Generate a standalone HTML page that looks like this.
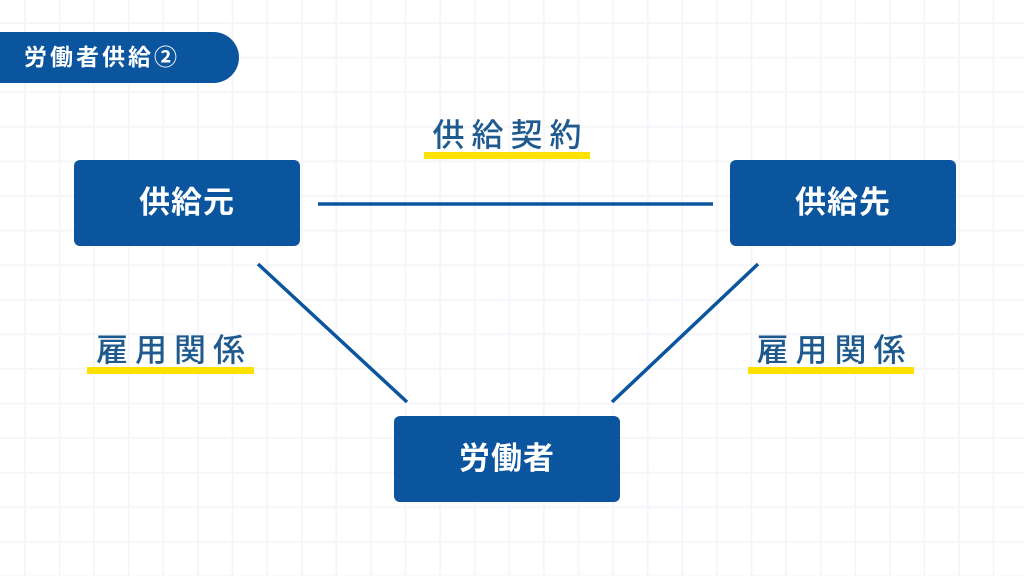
<!DOCTYPE html>
<html><head><meta charset="utf-8"><style>
html,body{margin:0;padding:0}
body{width:1024px;height:576px;position:relative;overflow:hidden;background:#fff;
background-image:linear-gradient(#f4f6fa 2px,transparent 2px),linear-gradient(90deg,#f4f6fa 2px,transparent 2px);
background-size:34.6px 34.6px;background-position:24px 22px;
font-family:"Liberation Sans","Noto Sans CJK JP",sans-serif}
.tag{position:absolute;left:0;top:32px;width:239px;height:51px;background:#0b559e;border-radius:0 26px 26px 0;color:#fff;font-weight:bold;font-size:23px;line-height:51px;padding-left:24px;box-sizing:border-box;letter-spacing:3px}
.box{position:absolute;width:226px;height:86px;background:#0b559e;border-radius:6px;color:#fff;font-weight:bold;font-size:31px;text-align:center;line-height:86px;letter-spacing:1px}
.lbl{position:absolute;color:#1f5a8f;font-size:32px;letter-spacing:7px;text-align:center;font-weight:500}
.ul{position:absolute;height:7px;background:#ffe100}
svg{position:absolute;left:0;top:0}
</style></head><body>
<div class="tag">労働者供給②</div>
<svg width="1024" height="576"><g stroke="#0b559e" stroke-width="3.5">
<line x1="318" y1="204" x2="713" y2="204"/>
<line x1="258" y1="264" x2="407" y2="402"/>
<line x1="758" y1="264" x2="612" y2="402"/></g></svg>
<div class="box" style="left:74px;top:160px">供給元</div>
<div class="box" style="left:730px;top:160px">供給先</div>
<div class="box" style="left:394px;top:416px">労働者</div>
<div class="ul" style="left:424px;top:152px;width:166px"></div>
<div class="lbl" style="left:424px;top:110px;width:173px">供給契約</div>
<div class="ul" style="left:87px;top:367px;width:167px"></div>
<div class="lbl" style="left:87px;top:325px;width:174px">雇用関係</div>
<div class="ul" style="left:748px;top:367px;width:166px"></div>
<div class="lbl" style="left:748px;top:325px;width:173px">雇用関係</div>
</body></html>
